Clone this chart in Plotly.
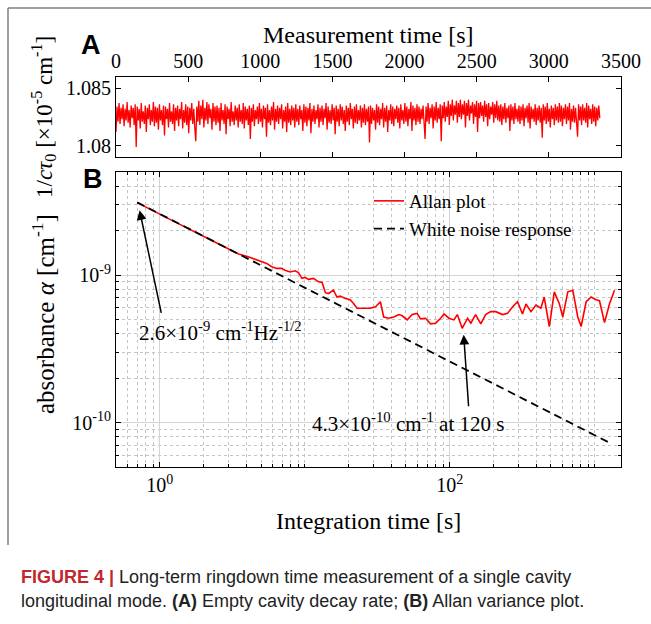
import math
import plotly.graph_objects as go

W, H = 651, 624

# ---------------- data: panel A (decay rate, x 10^-5 cm^-1), sampled every 7 s ----------------
sample_step_s = 7.0
decay_rate = [
    1.0812,1.0834,1.0821,1.0837,1.0819,1.0833,1.0823,1.0836,1.0817,1.0832,1.0822,1.0838,1.0820,1.0831,1.0816,1.0835,1.0824,1.0833,1.0818,1.0836,
    1.0799,1.0834,1.0822,1.0832,1.0815,1.0837,1.0821,1.0830,1.0819,1.0835,1.0812,1.0833,1.0823,1.0836,1.0818,1.0831,1.0821,1.0838,1.0817,1.0834,
    1.0820,1.0833,1.0814,1.0836,1.0822,1.0831,1.0818,1.0835,1.0809,1.0834,1.0823,1.0832,1.0816,1.0837,1.0821,1.0830,1.0819,1.0836,1.0813,1.0833,
    1.0822,1.0835,1.0817,1.0832,1.0823,1.0838,1.0815,1.0831,1.0820,1.0836,1.0818,1.0834,1.0811,1.0833,1.0822,1.0837,1.0819,1.0832,1.0816,1.0804,
    1.0834,1.0821,1.0839,1.0818,1.0835,1.0823,1.0840,1.0816,1.0833,1.0822,1.0838,1.0819,1.0836,1.0824,1.0832,1.0814,1.0837,1.0821,1.0834,1.0818,
    1.0835,1.0820,1.0833,1.0813,1.0837,1.0822,1.0831,1.0819,1.0836,1.0810,1.0834,1.0823,1.0832,1.0817,1.0838,1.0821,1.0830,1.0818,1.0835,1.0822,
    1.0833,1.0816,1.0836,1.0821,1.0831,1.0819,1.0837,1.0815,1.0834,1.0822,1.0832,1.0818,1.0835,1.0806,1.0833,1.0821,1.0836,1.0817,1.0831,1.0823,
    1.0834,1.0819,1.0837,1.0821,1.0832,1.0816,1.0835,1.0823,1.0833,1.0808,1.0836,1.0820,1.0831,1.0818,1.0834,1.0822,1.0838,1.0814,1.0832,1.0821,
    1.0835,1.0819,1.0833,1.0823,1.0836,1.0815,1.0831,1.0821,1.0834,1.0812,1.0837,1.0820,1.0832,1.0818,1.0835,1.0822,1.0833,1.0816,1.0836,1.0821,
    1.0832,1.0818,1.0835,1.0823,1.0831,1.0813,1.0836,1.0820,1.0834,1.0817,1.0833,1.0822,1.0837,1.0811,1.0832,1.0821,1.0835,1.0819,1.0831,1.0823,
    1.0836,1.0816,1.0833,1.0821,1.0835,1.0818,1.0832,1.0824,1.0837,1.0814,1.0834,1.0820,1.0831,1.0819,1.0836,1.0822,1.0833,1.0810,1.0835,1.0821,
    1.0832,1.0817,1.0836,1.0822,1.0834,1.0819,1.0831,1.0813,1.0835,1.0821,1.0833,1.0818,1.0837,1.0823,1.0832,1.0815,1.0834,1.0820,1.0836,1.0819,
    1.0831,1.0822,1.0835,1.0816,1.0833,1.0820,1.0836,1.0818,1.0832,1.0821,1.0834,1.0803,1.0835,1.0819,1.0833,1.0822,1.0831,1.0814,1.0836,1.0820,
    1.0834,1.0818,1.0832,1.0823,1.0837,1.0816,1.0833,1.0821,1.0835,1.0812,1.0831,1.0822,1.0836,1.0819,1.0834,1.0817,1.0832,1.0823,1.0835,1.0820,
    1.0833,1.0815,1.0836,1.0822,1.0831,1.0819,1.0837,1.0821,1.0834,1.0817,1.0832,1.0823,1.0838,1.0813,1.0835,1.0822,1.0833,1.0818,1.0836,1.0821,
    1.0834,1.0819,1.0832,1.0823,1.0835,1.0817,1.0806,1.0834,1.0821,1.0837,1.0819,1.0833,1.0824,1.0836,1.0815,1.0834,1.0822,1.0838,1.0820,1.0833,
    1.0823,1.0836,1.0804,1.0835,1.0824,1.0838,1.0821,1.0834,1.0825,1.0839,1.0818,1.0836,1.0826,1.0840,1.0822,1.0835,1.0827,1.0839,1.0820,1.0837,
    1.0825,1.0840,1.0823,1.0836,1.0827,1.0839,1.0816,1.0837,1.0826,1.0840,1.0822,1.0835,1.0828,1.0838,1.0819,1.0836,1.0825,1.0839,1.0812,1.0837,
    1.0824,1.0838,1.0826,1.0835,1.0821,1.0839,1.0825,1.0836,1.0817,1.0837,1.0823,1.0834,1.0827,1.0838,1.0820,1.0836,1.0824,1.0839,1.0822,1.0835,
    1.0821,1.0836,1.0818,1.0834,1.0823,1.0837,1.0820,1.0833,1.0824,1.0835,1.0813,1.0836,1.0822,1.0834,1.0819,1.0837,1.0823,1.0832,1.0821,1.0835,
    1.0819,1.0834,1.0822,1.0836,1.0817,1.0833,1.0824,1.0835,1.0820,1.0837,1.0815,1.0834,1.0823,1.0832,1.0821,1.0836,1.0818,1.0833,1.0822,1.0835,
    1.0820,1.0833,1.0807,1.0836,1.0822,1.0834,1.0819,1.0837,1.0821,1.0832,1.0816,1.0835,1.0823,1.0833,1.0818,1.0836,1.0822,1.0834,1.0820,1.0837,
    1.0821,1.0835,1.0817,1.0833,1.0823,1.0836,1.0819,1.0834,1.0822,1.0837,1.0814,1.0832,1.0821,1.0835,1.0820,1.0833,1.0823,1.0808,1.0836,1.0822,
    1.0834,1.0818,1.0836,1.0822,1.0833,1.0820,1.0837,1.0816,1.0835,1.0823,1.0832,1.0819,1.0836,1.0821,1.0834,1.0817,1.0833,1.0822,1.0835,1.0824,
]

top_xticks = [0, 500, 1000, 1500, 2000, 2500, 3000, 3500]
top_yticks = [1.08, 1.085]
top_yticklabels = ["1.08", "1.085"]

# ---------------- data: panel B (Allan deviation) ----------------
allan_tau = [0.7, 1.0, 1.4, 2.1, 2.8, 3.5, 4.08, 4.54, 4.79, 5.19, 5.47, 5.93, 6.42, 6.95, 7.33, 7.94,
             8.59, 9.06, 9.57, 10.1, 10.6, 11.5, 12.5, 13.2, 13.9, 14.6, 15.8, 16.7, 17.6, 19.1, 20.6,
             21.8, 23.0, 25.5, 28.4, 30.8, 33.3, 35.1, 38.0, 41.2, 44.6, 47.1, 51.0, 55.2, 59.7, 63.0,
             68.2, 73.9, 80.0, 86.7, 91.4, 98.9, 107, 113, 122, 133, 140, 151, 164, 177, 192, 208, 232,
             251, 272, 294, 318, 336, 364, 394, 426, 449, 487, 527, 571, 603, 653, 707, 765, 807, 874,
             946, 1024, 1080, 1170, 1267, 1371]
allan_alpha = [3.1e-9, 2.58e-9, 2.19e-9, 1.79e-9, 1.55e-9, 1.39e-9, 1.33e-9, 1.28e-9, 1.26e-9, 1.23e-9,
               1.20e-9, 1.14e-9, 1.11e-9, 1.11e-9, 1.08e-9, 1.05e-9, 1.07e-9, 1.04e-9, 9.5e-10, 9.65e-10,
               9.35e-10, 9.5e-10, 9.0e-10, 8.9e-10, 7.6e-10, 7.5e-10, 7.9e-10, 7.1e-10, 7.2e-10, 6.95e-10,
               6.8e-10, 6.4e-10, 5.96e-10, 5.96e-10, 5.96e-10, 6.1e-10, 6.6e-10, 5.2e-10, 5.1e-10, 5.2e-10,
               5.4e-10, 5.3e-10, 4.97e-10, 5.4e-10, 5.5e-10, 5.05e-10, 5.1e-10, 4.67e-10, 4.72e-10, 5.1e-10,
               5.45e-10, 5.1e-10, 4.97e-10, 5.4e-10, 4.36e-10, 5.1e-10, 4.72e-10, 5.4e-10, 4.67e-10, 5.4e-10,
               5.65e-10, 5.65e-10, 5.4e-10, 5.5e-10, 6.1e-10, 6.6e-10, 5.45e-10, 6.37e-10, 5.65e-10, 6.27e-10,
               5.96e-10, 7.1e-10, 4.48e-10, 7.7e-10, 6.4e-10, 5.2e-10, 7.7e-10, 7.9e-10, 5.2e-10, 4.48e-10,
               6.6e-10, 7.1e-10, 6.8e-10, 6.7e-10, 4.76e-10, 6.4e-10, 7.9e-10]
white_tau = [0.7, 1250]
white_alpha = [3.11e-9, 7.35e-11]

bottom_xticks = [1, 100]
bottom_xticklabels = ["10<sup>0</sup>", "10<sup>2</sup>"]
bottom_yticks = [1e-10, 1e-9]
bottom_yticklabels = ["10<sup>-10</sup>", "10<sup>-9</sup>"]

x_range = [0.5, 1520]
y_range = [5e-11, 5e-9]

SERIF = "Liberation Serif"
SANS = "Liberation Sans"

def px_x(p):
    return p / W

def px_y(p):
    return 1 - p / H

xdom = [px_x(116), px_x(621)]
ydom_top = [px_y(157), px_y(77)]
ydom_bot = [px_y(467), px_y(172)]

fig = go.Figure()

fig.add_trace(go.Scatter(
    y=decay_rate, x0=0, dx=sample_step_s, mode="lines",
    line=dict(color="#ff0000", width=1.3), showlegend=False,
    xaxis="x", yaxis="y", hoverinfo="skip"))

fig.add_trace(go.Scatter(
    x=allan_tau, y=allan_alpha, mode="lines", name="Allan plot",
    line=dict(color="#ff0000", width=1.6), xaxis="x2", yaxis="y2"))
fig.add_trace(go.Scatter(
    x=white_tau, y=white_alpha, mode="lines", name="White noise response",
    line=dict(color="black", width=1.8, dash="8px,5px"), xaxis="x2", yaxis="y2"))

minor_x = [m * 10 ** d for d in range(-1, 4) for m in range(1, 10)
           if x_range[0] < m * 10 ** d < x_range[1] and m * 10 ** d not in bottom_xticks]
minor_y = [m * 10.0 ** d for d in range(-11, -8) for m in range(1, 10)
           if y_range[0] <= m * 10.0 ** d <= y_range[1] and m != 1]

axis_common = dict(showline=True, linecolor="black", linewidth=1, mirror="allticks",
                   ticks="inside", tickcolor="black", ticklen=5, automargin=False,
                   tickfont=dict(family=SERIF, size=20, color="black"), zeroline=False)

fig.update_layout(
    width=W, height=H, autosize=False, margin=dict(l=0, r=0, t=0, b=0, pad=0),
    paper_bgcolor="white", plot_bgcolor="white",
    xaxis=dict(domain=xdom, anchor="y", side="top", range=[0, 3500], tickvals=top_xticks,
               showgrid=False, **axis_common),
    yaxis=dict(domain=ydom_top, anchor="x", range=[1.07904, 1.08596], tickvals=top_yticks,
               ticktext=top_yticklabels, showgrid=False, **axis_common),
    xaxis2=dict(domain=xdom, anchor="y2", type="log",
                range=[math.log10(x_range[0]), math.log10(x_range[1])],
                tickvals=bottom_xticks, ticktext=bottom_xticklabels,
                showgrid=True, gridcolor="#d4d4d4", gridwidth=1,
                minor=dict(tickvals=minor_x, ticks="inside", ticklen=3, tickcolor="black",
                           showgrid=True, gridcolor="#c4c4c4", griddash="dot", gridwidth=1),
                **axis_common),
    yaxis2=dict(domain=ydom_bot, anchor="x2", type="log",
                range=[math.log10(y_range[0]), math.log10(y_range[1])],
                tickvals=bottom_yticks, ticktext=bottom_yticklabels,
                showgrid=True, gridcolor="#d4d4d4", gridwidth=1,
                minor=dict(tickvals=minor_y, ticks="inside", ticklen=3, tickcolor="black",
                           showgrid=True, gridcolor="#c4c4c4", griddash="dot", gridwidth=1),
                **axis_common),
    legend=dict(x=px_x(369), y=px_y(182), xanchor="left", yanchor="top",
                bgcolor="rgba(0,0,0,0)", font=dict(family=SERIF, size=19, color="black"),
                tracegroupgap=0, itemwidth=30),
    showlegend=True,
)

def label(text, x, y, size, family=SERIF, angle=0, xanchor="center"):
    return dict(text=text, x=px_x(x), y=px_y(y), xref="paper", yref="paper",
                xanchor=xanchor, yanchor="middle", showarrow=False, textangle=angle,
                font=dict(family=family, size=size, color="black"))

ann = []
# axis titles
ann.append(label("Measurement time [s]", 368, 35, 24))
ann.append(label("Integration time [s]", 368, 521, 24))
ann.append(label("1/<i>cτ</i><sub>0</sub> [×10<sup>-5</sup> cm<sup>-1</sup>]", 43, 117, 23, angle=-90))
ann.append(label("absorbance <i>α</i> [cm<sup>-1</sup>]", 43, 314, 25, angle=-90))
# panel letters
ann.append(label("<b>A</b>", 91, 45, 27, family=SANS))
ann.append(label("<b>B</b>", 93, 179, 27, family=SANS))
# arrows
ann.append(dict(text="", x=math.log10(0.727), y=math.log10(2.75e-9), xref="x2", yref="y2",
                showarrow=True, arrowhead=2, arrowsize=1.3, arrowwidth=1.5, arrowcolor="black",
                ax=22, ay=104))
ann.append(dict(text="", x=math.log10(125), y=math.log10(3.94e-10), xref="x2", yref="y2",
                showarrow=True, arrowhead=2, arrowsize=1.3, arrowwidth=1.5, arrowcolor="black",
                ax=5, ay=73))
ann.append(dict(text="2.6×10<sup>-9</sup> cm<sup>-1</sup>Hz<sup>-1/2</sup>",
                x=math.log10(0.693), y=math.log10(4.12e-10), xref="x2", yref="y2",
                xanchor="left", yanchor="middle", showarrow=False,
                font=dict(family=SERIF, size=21, color="black")))
ann.append(dict(text="4.3×10<sup>-10</sup> cm<sup>-1</sup> at 120 s",
                x=math.log10(10.9), y=math.log10(1.0e-10), xref="x2", yref="y2",
                xanchor="left", yanchor="middle", showarrow=False,
                font=dict(family=SERIF, size=21, color="black")))
# caption
ann.append(dict(text="<span style='color:#c1272d'><b>FIGURE 4 |</b></span> Long-term ringdown time measurement of a single cavity",
                x=px_x(19), y=px_y(577), xref="paper", yref="paper", xanchor="left", yanchor="middle",
                showarrow=False, font=dict(family=SANS, size=18, color="#222222")))
ann.append(dict(text="longitudinal mode. <b>(A)</b> Empty cavity decay rate; <b>(B)</b> Allan variance plot.",
                x=px_x(19), y=px_y(601), xref="paper", yref="paper", xanchor="left", yanchor="middle",
                showarrow=False, font=dict(family=SANS, size=18, color="#222222")))
fig.update_layout(annotations=ann)

fig.update_layout(shapes=[
    dict(type="line", xref="paper", yref="paper", x0=px_x(8), x1=1.0, y0=px_y(8), y1=px_y(8),
         line=dict(color="#7f7f7f", width=1.5)),
    dict(type="line", xref="paper", yref="paper", x0=px_x(8), x1=px_x(8), y0=px_y(8), y1=px_y(545),
         line=dict(color="#7f7f7f", width=1.5)),
])

fig.write_html("out.html", config={"displayModeBar": False},
               post_script="document.body.style.margin='0';document.body.style.overflow='hidden';")
